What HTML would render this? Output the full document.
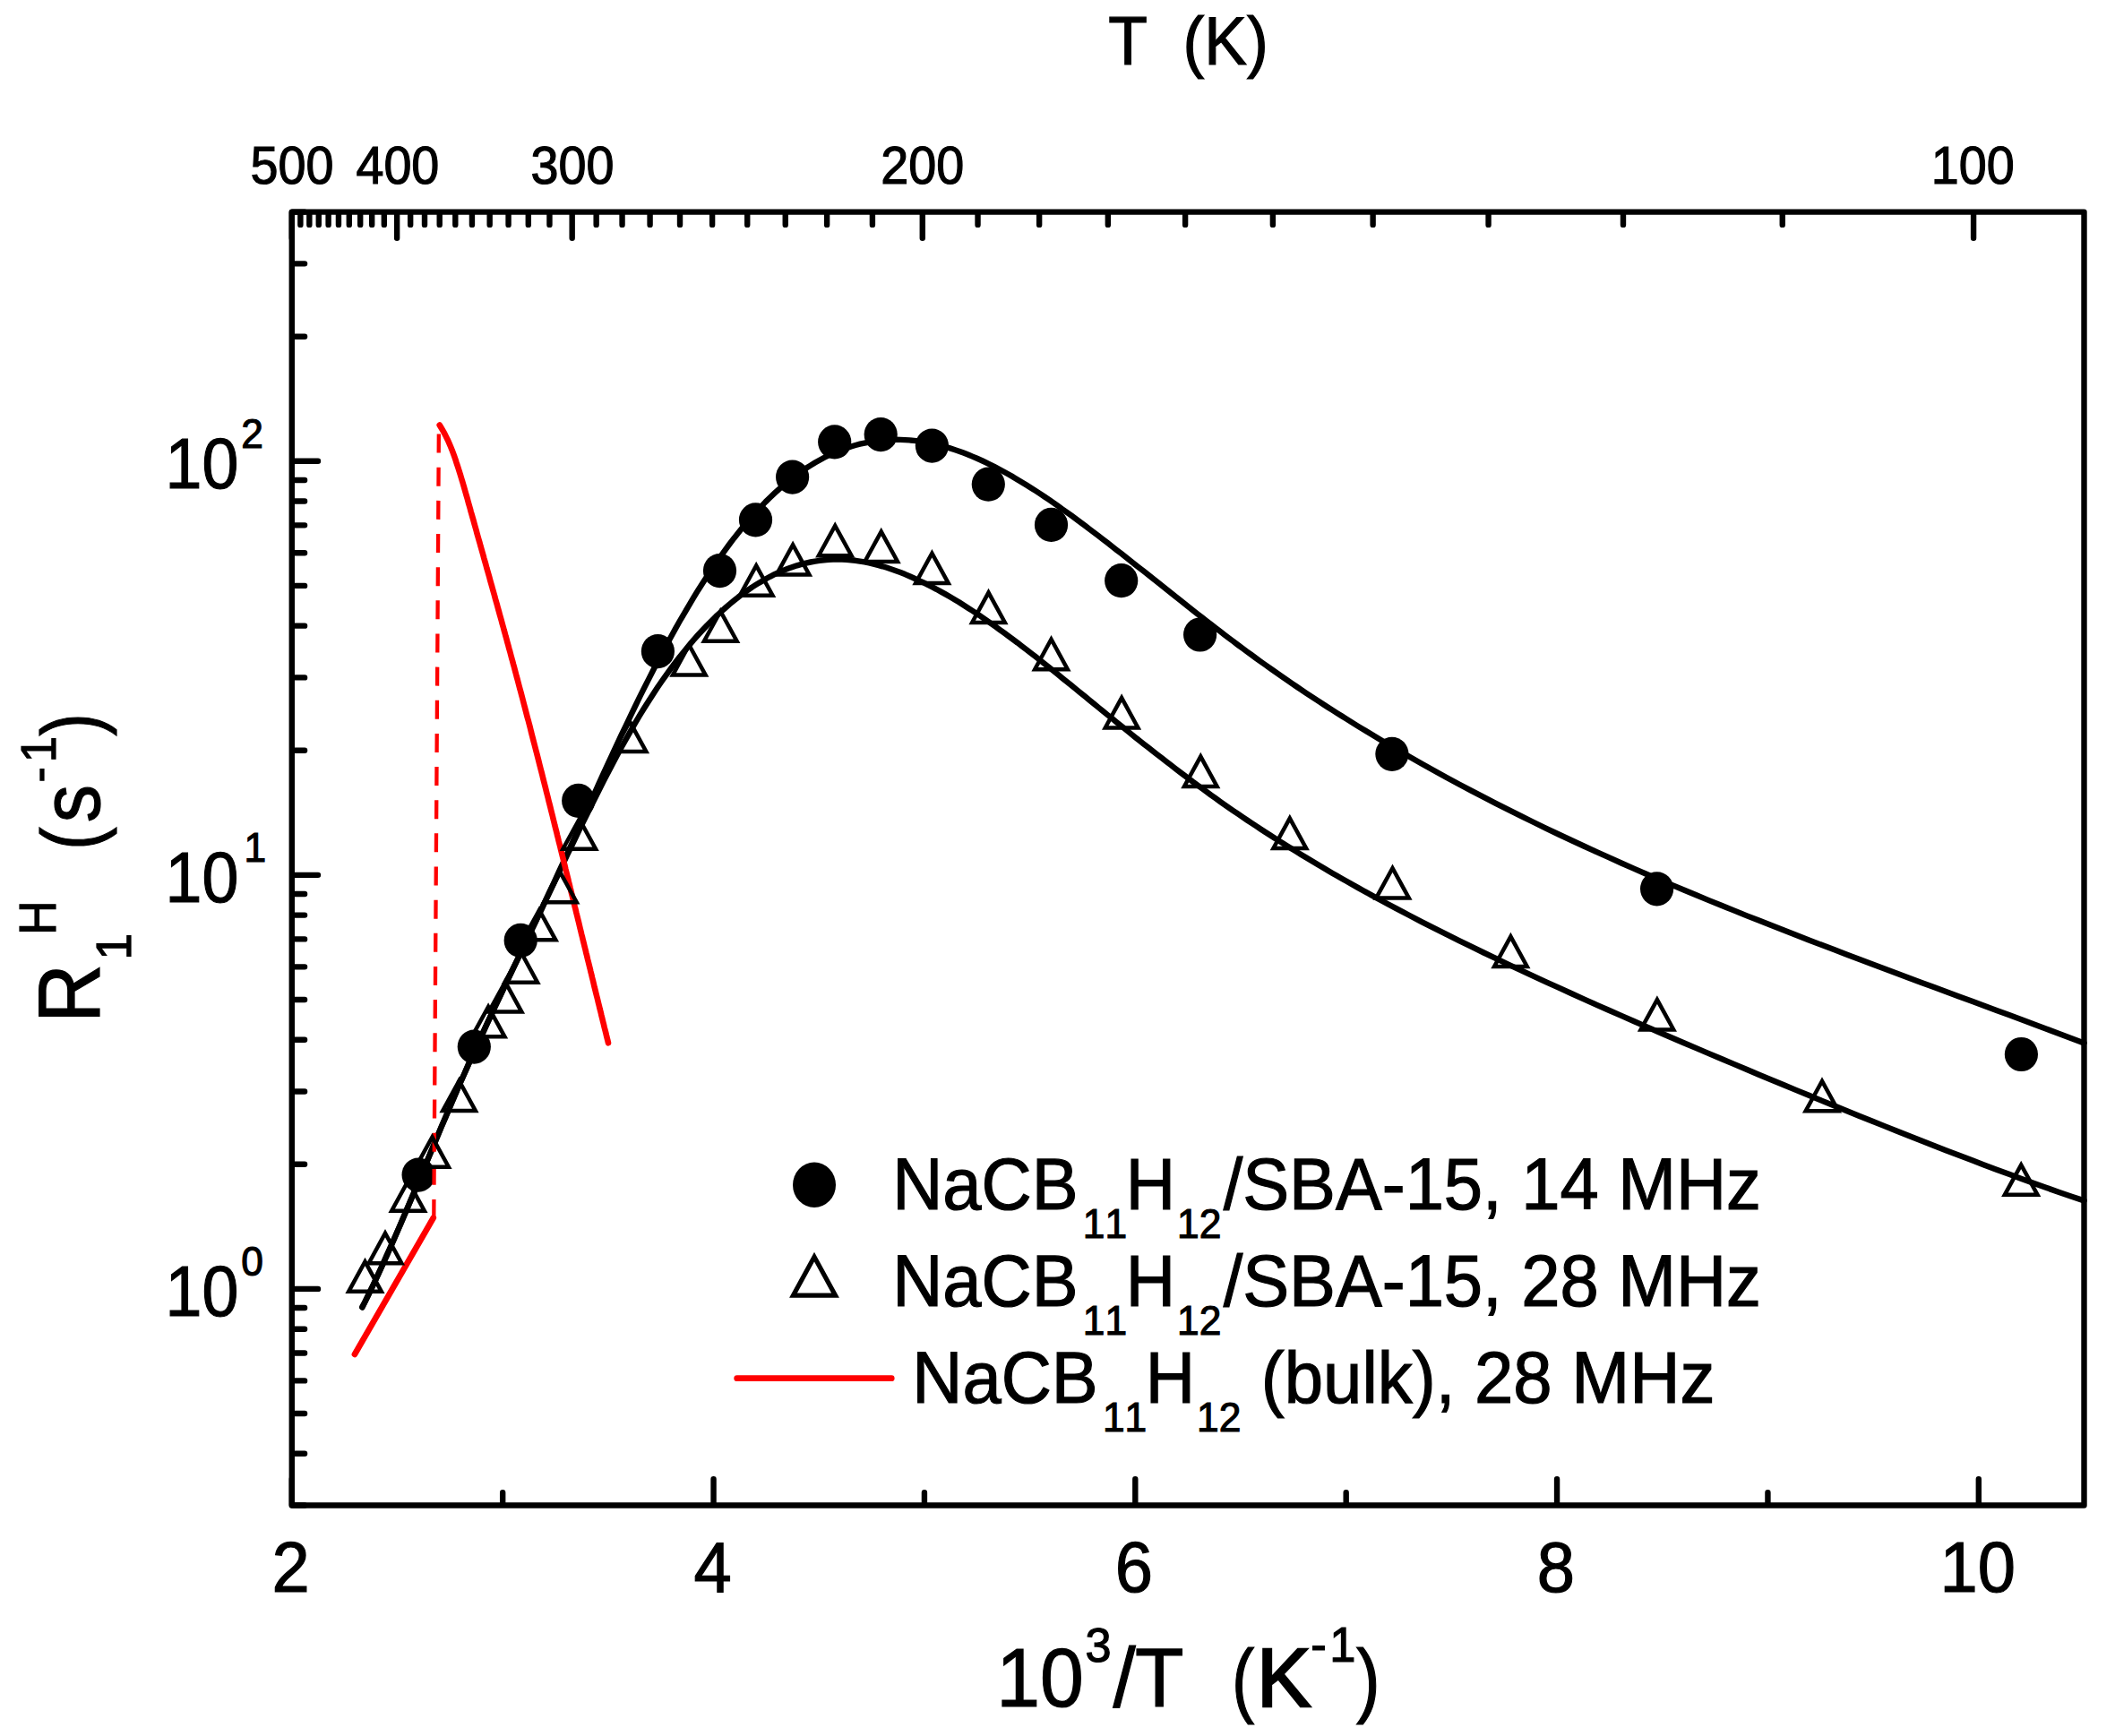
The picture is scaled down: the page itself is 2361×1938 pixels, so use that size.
<!DOCTYPE html>
<html><head><meta charset="utf-8"><title>R1H vs 1000/T</title>
<style>html,body{margin:0;padding:0;background:#fff}svg{display:block}text{white-space:pre;font-kerning:none}</style></head>
<body>
<svg width="2361" height="1938" viewBox="0 0 2361 1938" font-family="'Liberation Sans', Arial, sans-serif" fill="#000">
<rect width="2361" height="1938" fill="#fff"/>
<g>
<ellipse cx="467.1" cy="1311.6" rx="18.6" ry="19.1"/>
<ellipse cx="529.3" cy="1168.6" rx="18.6" ry="19.1"/>
<ellipse cx="581.2" cy="1049.9" rx="18.6" ry="19.1"/>
<ellipse cx="645.7" cy="893.9" rx="18.6" ry="19.1"/>
<ellipse cx="734.4" cy="727.1" rx="18.6" ry="19.1"/>
<ellipse cx="803.5" cy="637.1" rx="18.6" ry="19.1"/>
<ellipse cx="843.5" cy="580.4" rx="18.6" ry="19.1"/>
<ellipse cx="884.6" cy="532.6" rx="18.6" ry="19.1"/>
<ellipse cx="931.7" cy="493.4" rx="18.6" ry="19.1"/>
<ellipse cx="983.2" cy="485.1" rx="18.6" ry="19.1"/>
<ellipse cx="1040.4" cy="497.6" rx="18.6" ry="19.1"/>
<ellipse cx="1103.3" cy="540.7" rx="18.6" ry="19.1"/>
<ellipse cx="1173.5" cy="585.9" rx="18.6" ry="19.1"/>
<ellipse cx="1251.7" cy="648.2" rx="18.6" ry="19.1"/>
<ellipse cx="1339.6" cy="708.5" rx="18.6" ry="19.1"/>
<ellipse cx="1553.9" cy="841.8" rx="18.6" ry="19.1"/>
<ellipse cx="1849.6" cy="992.3" rx="18.6" ry="19.1"/>
<ellipse cx="2256.4" cy="1177.0" rx="18.6" ry="19.1"/>
</g>
<g fill="none" stroke-linecap="round" stroke-linejoin="round">
<path d="M404.4,1459.3 L407.3,1453.6 L412.3,1443.3 L417.4,1432.9 L422.4,1422.2 L427.4,1411.2 L432.4,1400.1 L437.5,1388.8 L442.5,1377.3 L447.5,1365.7 L452.5,1353.9 L457.6,1342.1 L462.6,1330.2 L467.6,1318.2 L472.6,1306.2 L477.7,1294.1 L482.7,1282.1 L487.7,1270.1 L492.7,1258.1 L497.8,1246.2 L502.8,1234.4 L507.8,1222.7 L512.8,1211.1 L517.9,1199.7 L522.9,1188.4 L527.9,1177.2 L532.9,1166.2 L538.0,1155.3 L543.0,1144.4 L548.0,1133.7 L553.0,1123.0 L558.1,1112.3 L563.1,1101.7 L568.1,1091.2 L573.1,1080.7 L578.2,1070.2 L583.2,1059.7 L588.2,1049.2 L593.2,1038.7 L598.3,1028.1 L603.3,1017.5 L608.3,1006.8 L613.3,996.1 L618.4,985.3 L623.4,974.4 L628.4,963.5 L633.4,952.5 L638.5,941.4 L643.5,930.3 L648.5,919.2 L653.5,908.0 L658.6,896.8 L663.6,885.7 L668.6,874.6 L673.6,863.7 L678.7,852.7 L683.7,841.9 L688.7,831.1 L693.7,820.4 L698.8,809.8 L703.8,799.3 L708.8,789.0 L713.8,778.7 L718.8,768.6 L723.9,758.6 L728.9,748.8 L733.9,739.1 L738.9,729.6 L744.0,720.2 L749.0,711.0 L754.0,701.9 L759.0,693.0 L764.1,684.3 L769.1,675.8 L774.1,667.4 L779.1,659.2 L784.2,651.3 L789.2,643.5 L794.2,635.9 L799.2,628.5 L804.3,621.3 L809.3,614.3 L814.3,607.5 L819.3,600.9 L824.4,594.5 L829.4,588.3 L834.4,582.3 L839.4,576.6 L844.5,571.0 L849.5,565.6 L854.5,560.4 L859.5,555.5 L864.6,550.7 L869.6,546.1 L874.6,541.8 L879.6,537.6 L884.7,533.6 L889.7,529.8 L894.7,526.2 L899.7,522.8 L904.8,519.6 L909.8,516.5 L914.8,513.7 L919.8,511.0 L924.9,508.5 L929.9,506.2 L934.9,504.0 L939.9,502.0 L945.0,500.2 L950.0,498.5 L955.0,497.0 L960.0,495.7 L965.1,494.6 L970.1,493.6 L975.1,492.7 L980.1,492.0 L985.2,491.5 L990.2,491.1 L995.2,490.9 L1000.2,490.8 L1005.2,490.9 L1010.3,491.1 L1015.3,491.4 L1020.3,491.9 L1025.3,492.5 L1030.4,493.3 L1035.4,494.1 L1040.4,495.1 L1045.4,496.3 L1050.5,497.5 L1055.5,498.9 L1060.5,500.4 L1065.5,502.0 L1070.6,503.7 L1075.6,505.6 L1080.6,507.5 L1085.6,509.6 L1090.7,511.8 L1095.7,514.0 L1100.7,516.4 L1105.7,518.8 L1110.8,521.4 L1115.8,524.0 L1120.8,526.7 L1125.8,529.5 L1130.9,532.4 L1135.9,535.4 L1140.9,538.4 L1145.9,541.5 L1151.0,544.7 L1156.0,547.9 L1161.0,551.2 L1166.0,554.5 L1171.1,557.9 L1176.1,561.4 L1181.1,564.9 L1186.1,568.5 L1191.2,572.1 L1196.2,575.7 L1201.2,579.4 L1206.2,583.1 L1211.3,586.9 L1216.3,590.7 L1221.3,594.5 L1226.3,598.3 L1231.4,602.2 L1236.4,606.1 L1241.4,610.0 L1246.4,613.9 L1251.5,617.8 L1256.5,621.8 L1261.5,625.7 L1266.5,629.7 L1271.6,633.7 L1276.6,637.6 L1281.6,641.6 L1286.6,645.6 L1291.7,649.6 L1296.7,653.5 L1301.7,657.5 L1306.7,661.5 L1311.7,665.5 L1316.8,669.5 L1321.8,673.5 L1326.8,677.4 L1331.8,681.4 L1336.9,685.4 L1341.9,689.3 L1346.9,693.2 L1351.9,697.1 L1357.0,701.0 L1362.0,704.8 L1367.0,708.7 L1372.0,712.5 L1377.1,716.3 L1382.1,720.1 L1387.1,723.8 L1392.1,727.5 L1397.2,731.2 L1402.2,734.9 L1407.2,738.5 L1412.2,742.0 L1417.3,745.6 L1422.3,749.2 L1427.3,752.7 L1432.3,756.2 L1437.4,759.7 L1442.4,763.1 L1447.4,766.5 L1452.4,769.9 L1457.5,773.3 L1462.5,776.6 L1467.5,779.9 L1472.5,783.2 L1477.6,786.5 L1482.6,789.7 L1487.6,792.9 L1492.6,796.1 L1497.7,799.3 L1502.7,802.4 L1516.6,811.1 L1530.6,819.6 L1544.6,828.0 L1558.5,836.2 L1572.5,844.3 L1586.5,852.2 L1600.4,860.0 L1614.4,867.7 L1628.3,875.2 L1642.3,882.6 L1656.3,889.9 L1670.2,897.1 L1684.2,904.2 L1698.2,911.2 L1712.1,918.0 L1726.1,924.8 L1740.1,931.5 L1754.0,938.0 L1768.0,944.5 L1781.9,950.9 L1795.9,957.2 L1809.9,963.5 L1823.8,969.6 L1837.8,975.7 L1851.8,981.7 L1865.7,987.6 L1879.7,993.5 L1893.6,999.3 L1907.6,1005.1 L1921.6,1010.8 L1935.5,1016.4 L1949.5,1022.1 L1963.5,1027.6 L1977.4,1033.1 L1991.4,1038.6 L2005.4,1044.0 L2019.3,1049.4 L2033.3,1054.8 L2047.2,1060.1 L2061.2,1065.4 L2075.2,1070.7 L2089.1,1076.0 L2103.1,1081.2 L2117.1,1086.5 L2131.0,1091.7 L2145.0,1096.9 L2158.9,1102.0 L2172.9,1107.2 L2186.9,1112.4 L2200.8,1117.6 L2214.8,1122.8 L2228.8,1128.0 L2242.7,1133.1 L2256.7,1138.3 L2270.6,1143.5 L2284.6,1148.7 L2298.6,1154.0 L2312.5,1159.2 L2326.5,1164.4" stroke="#000" stroke-width="6.4"/>
<path d="M404.4,1459.3 L407.3,1453.6 L412.3,1443.3 L417.4,1432.9 L422.4,1422.2 L427.4,1411.2 L432.4,1400.1 L437.5,1388.8 L442.5,1377.3 L447.5,1365.7 L452.5,1353.9 L457.6,1342.1 L462.6,1330.2 L467.6,1318.2 L472.6,1306.2 L477.7,1294.1 L482.7,1282.1 L487.7,1270.1 L492.7,1258.1 L497.8,1246.2 L502.8,1234.4 L507.8,1222.7 L512.8,1211.1 L517.9,1199.7 L522.9,1188.4 L527.9,1177.2 L532.9,1166.2 L538.0,1155.3 L543.0,1144.4 L548.0,1133.7 L553.0,1123.0 L558.1,1112.3 L563.1,1101.7 L568.1,1091.2 L573.1,1080.7 L578.2,1070.2 L583.2,1059.7 L588.2,1049.2 L593.2,1038.7 L598.3,1028.1 L603.3,1017.6 L608.3,1007.0 L613.3,996.4 L618.4,985.8 L623.4,975.2 L628.4,964.6 L633.4,954.0 L638.5,943.5 L643.5,933.0 L648.5,922.7 L653.5,912.5 L658.6,902.4 L663.6,892.3 L668.6,882.3 L673.6,872.4 L678.7,862.6 L683.7,853.0 L688.7,843.6 L693.7,834.3 L698.8,825.2 L703.8,816.4 L708.8,807.7 L713.8,799.2 L718.8,791.0 L723.9,783.0 L728.9,775.2 L733.9,767.6 L738.9,760.3 L744.0,753.1 L749.0,746.2 L754.0,739.5 L759.0,733.0 L764.1,726.7 L769.1,720.6 L774.1,714.6 L779.1,709.0 L784.2,703.5 L789.2,698.2 L794.2,693.2 L799.2,688.2 L804.3,683.5 L809.3,679.0 L814.3,674.6 L819.3,670.5 L824.4,666.4 L829.4,662.7 L834.4,659.1 L839.4,655.6 L844.5,652.4 L849.5,649.4 L854.5,646.5 L859.5,643.8 L864.6,641.2 L869.6,638.9 L874.6,636.7 L879.6,634.8 L884.7,633.0 L889.7,631.3 L894.7,629.9 L899.7,628.6 L904.8,627.5 L909.8,626.6 L914.8,625.8 L919.8,625.3 L924.9,624.8 L929.9,624.6 L934.9,624.5 L939.9,624.6 L945.0,624.8 L950.0,625.3 L955.0,625.8 L960.0,626.6 L965.1,627.4 L970.1,628.4 L975.1,629.6 L980.1,630.9 L985.2,632.3 L990.2,633.8 L995.2,635.5 L1000.2,637.3 L1005.2,639.1 L1010.3,641.1 L1015.3,643.3 L1020.3,645.5 L1025.3,647.8 L1030.4,650.1 L1035.4,652.6 L1040.4,655.2 L1045.4,657.8 L1050.5,660.6 L1055.5,663.4 L1060.5,666.3 L1065.5,669.3 L1070.6,672.3 L1075.6,675.5 L1080.6,678.7 L1085.6,681.9 L1090.7,685.2 L1095.7,688.6 L1100.7,692.1 L1105.7,695.6 L1110.8,699.2 L1115.8,702.8 L1120.8,706.4 L1125.8,710.1 L1130.9,713.9 L1135.9,717.6 L1140.9,721.5 L1145.9,725.3 L1151.0,729.2 L1156.0,733.1 L1161.0,737.1 L1166.0,741.1 L1171.1,745.1 L1176.1,749.1 L1181.1,753.1 L1186.1,757.2 L1191.2,761.2 L1196.2,765.3 L1201.2,769.4 L1206.2,773.5 L1211.3,777.6 L1216.3,781.7 L1221.3,785.8 L1226.3,789.9 L1231.4,794.0 L1236.4,798.1 L1241.4,802.1 L1246.4,806.2 L1251.5,810.3 L1256.5,814.3 L1261.5,818.4 L1266.5,822.4 L1271.6,826.4 L1276.6,830.4 L1281.6,834.3 L1286.6,838.3 L1291.7,842.2 L1296.7,846.1 L1301.7,850.0 L1306.7,853.8 L1311.7,857.7 L1316.8,861.6 L1321.8,865.4 L1326.8,869.1 L1331.8,872.9 L1336.9,876.6 L1341.9,880.3 L1346.9,883.9 L1351.9,887.6 L1357.0,891.2 L1362.0,894.8 L1367.0,898.3 L1372.0,901.8 L1377.1,905.3 L1382.1,908.7 L1387.1,912.1 L1392.1,915.5 L1397.2,918.9 L1402.2,922.2 L1407.2,925.5 L1412.2,928.7 L1417.3,932.0 L1422.3,935.2 L1427.3,938.4 L1432.3,941.5 L1437.4,944.7 L1442.4,947.8 L1447.4,950.9 L1452.4,954.0 L1457.5,957.1 L1462.5,960.1 L1467.5,963.1 L1472.5,966.0 L1477.6,969.0 L1482.6,972.0 L1487.6,974.9 L1492.6,977.8 L1497.7,980.7 L1502.7,983.5 L1516.6,991.4 L1530.6,999.1 L1544.6,1006.7 L1558.5,1014.1 L1572.5,1021.5 L1586.5,1028.8 L1600.4,1035.9 L1614.4,1042.9 L1628.3,1049.9 L1642.3,1056.7 L1656.3,1063.5 L1670.2,1070.2 L1684.2,1076.8 L1698.2,1083.4 L1712.1,1089.9 L1726.1,1096.3 L1740.1,1102.7 L1754.0,1109.0 L1768.0,1115.3 L1781.9,1121.6 L1795.9,1127.8 L1809.9,1133.9 L1823.8,1140.0 L1837.8,1146.1 L1851.8,1152.2 L1865.7,1158.2 L1879.7,1164.2 L1893.6,1170.1 L1907.6,1176.1 L1921.6,1182.0 L1935.5,1187.9 L1949.5,1193.8 L1963.5,1199.7 L1977.4,1205.5 L1991.4,1211.3 L2005.4,1217.1 L2019.3,1222.8 L2033.3,1228.6 L2047.2,1234.3 L2061.2,1240.0 L2075.2,1245.7 L2089.1,1251.3 L2103.1,1256.9 L2117.1,1262.5 L2131.0,1268.0 L2145.0,1273.5 L2158.9,1279.0 L2172.9,1284.4 L2186.9,1289.8 L2200.8,1295.1 L2214.8,1300.4 L2228.8,1305.7 L2242.7,1310.8 L2256.7,1315.9 L2270.6,1321.0 L2284.6,1326.0 L2298.6,1330.9 L2312.5,1335.7 L2326.5,1340.4" stroke="#000" stroke-width="6.4"/>
<path d="M395.9,1512.0 L483.8,1359.5" stroke="#f00" stroke-width="6.6"/>
<path d="M484.3,1360.0 L489.9,476.0" stroke="#f00" stroke-width="4.3" stroke-dasharray="21 16.15" stroke-linecap="butt"/>
<path d="M490.7,474.5 L492.8,478.0 L494.8,481.4 L496.7,484.9 L498.4,488.4 L500.1,491.8 L501.6,495.3 L503.1,498.8 L504.5,502.2 L505.8,505.7 L507.1,509.2 L508.3,512.6 L509.4,516.1 L510.6,519.6 L511.7,523.0 L512.8,526.5 L513.9,530.0 L514.9,533.4 L516.0,536.9 L517.0,540.4 L518.0,543.8 L519.0,547.3 L520.0,550.8 L521.0,554.2 L522.0,557.7 L522.9,561.2 L523.9,564.6 L524.9,568.1 L525.8,571.6 L526.8,575.0 L527.8,578.5 L528.8,582.0 L529.7,585.4 L530.7,588.9 L531.7,592.4 L532.6,595.8 L533.6,599.3 L534.6,602.8 L535.6,606.2 L536.5,609.7 L537.5,613.2 L538.5,616.6 L539.5,620.1 L540.4,623.6 L541.4,627.0 L542.4,630.5 L543.3,634.0 L544.3,637.4 L545.3,640.9 L546.3,644.4 L547.2,647.8 L548.2,651.3 L549.2,654.7 L550.1,658.2 L551.1,661.7 L552.1,665.1 L553.0,668.6 L554.0,672.1 L555.0,675.5 L555.9,679.0 L556.9,682.5 L557.8,685.9 L558.8,689.4 L559.8,692.9 L560.7,696.3 L561.7,699.8 L562.6,703.3 L563.6,706.7 L564.5,710.2 L565.5,713.7 L566.4,717.1 L567.4,720.6 L568.3,724.1 L569.3,727.5 L570.2,731.0 L571.1,734.5 L572.1,737.9 L573.0,741.4 L574.0,744.9 L574.9,748.3 L575.8,751.8 L576.7,755.3 L577.7,758.7 L578.6,762.2 L579.5,765.7 L580.4,769.1 L581.4,772.6 L582.3,776.1 L583.2,779.5 L584.1,783.0 L585.0,786.5 L585.9,789.9 L586.8,793.4 L587.7,796.9 L588.6,800.3 L589.6,803.8 L590.5,807.3 L591.4,810.7 L592.3,814.2 L593.1,817.7 L594.0,821.1 L594.9,824.6 L595.8,828.1 L596.7,831.5 L597.6,835.0 L598.5,838.5 L599.4,841.9 L600.3,845.4 L601.2,848.9 L602.0,852.3 L602.9,855.8 L603.8,859.3 L604.7,862.7 L605.6,866.2 L606.4,869.7 L607.3,873.1 L608.2,876.6 L609.1,880.1 L609.9,883.5 L610.8,887.0 L611.7,890.5 L612.5,893.9 L613.4,897.4 L614.3,900.9 L615.1,904.3 L616.0,907.8 L616.9,911.3 L617.7,914.7 L618.6,918.2 L619.4,921.7 L620.3,925.1 L621.2,928.6 L622.0,932.1 L622.9,935.5 L623.7,939.0 L624.6,942.5 L625.5,945.9 L626.3,949.4 L627.2,952.9 L628.0,956.3 L628.9,959.8 L629.7,963.3 L630.6,966.7 L631.4,970.2 L632.3,973.7 L633.1,977.1 L634.0,980.6 L634.8,984.1 L635.7,987.5 L636.5,991.0 L637.4,994.4 L638.2,997.9 L639.1,1001.4 L639.9,1004.8 L640.8,1008.3 L641.6,1011.8 L642.5,1015.2 L643.3,1018.7 L644.2,1022.2 L645.0,1025.6 L645.9,1029.1 L646.7,1032.6 L647.5,1036.0 L648.4,1039.5 L649.2,1043.0 L650.1,1046.4 L650.9,1049.9 L651.8,1053.4 L652.6,1056.8 L653.5,1060.3 L654.3,1063.8 L655.2,1067.2 L656.0,1070.7 L656.9,1074.2 L657.7,1077.6 L658.6,1081.1 L659.4,1084.6 L660.3,1088.0 L661.1,1091.5 L662.0,1095.0 L662.8,1098.4 L663.6,1101.9 L664.5,1105.4 L665.3,1108.8 L666.2,1112.3 L667.1,1115.8 L667.9,1119.2 L668.8,1122.7 L669.6,1126.2 L670.5,1129.6 L671.3,1133.1 L672.2,1136.6 L673.0,1140.0 L673.9,1143.5 L674.7,1147.0 L675.6,1150.4 L676.5,1153.9 L677.3,1157.4 L678.2,1160.8 L679.0,1164.3" stroke="#f00" stroke-width="6.6"/>
</g>
<g fill="none" stroke="#000" stroke-linejoin="miter">
<path d="M389.20,1441.85 L425.80,1441.85 L407.50,1408.45 Z" stroke-width="4.5"/>
<path d="M411.70,1410.15 L448.30,1410.15 L430.00,1376.75 Z" stroke-width="4.5"/>
<path d="M437.20,1351.75 L473.80,1351.75 L455.50,1318.35 Z" stroke-width="4.5"/>
<path d="M464.20,1302.75 L500.80,1302.75 L482.50,1269.35 Z" stroke-width="4.5"/>
<path d="M494.20,1239.95 L530.80,1239.95 L512.50,1206.55 Z" stroke-width="4.5"/>
<path d="M526.80,1157.35 L563.40,1157.35 L545.10,1123.95 Z" stroke-width="4.5"/>
<path d="M545.70,1129.55 L582.30,1129.55 L564.00,1096.15 Z" stroke-width="4.5"/>
<path d="M563.40,1096.65 L600.00,1096.65 L581.70,1063.25 Z" stroke-width="4.5"/>
<path d="M583.70,1049.35 L620.30,1049.35 L602.00,1015.95 Z" stroke-width="4.5"/>
<path d="M607.10,1007.25 L643.70,1007.25 L625.40,973.85 Z" stroke-width="4.5"/>
<path d="M628.40,947.75 L665.00,947.75 L646.70,914.35 Z" stroke-width="4.5"/>
<path d="M684.70,838.95 L721.30,838.95 L703.00,805.55 Z" stroke-width="4.5"/>
<path d="M751.00,753.55 L787.60,753.55 L769.30,720.15 Z" stroke-width="4.5"/>
<path d="M786.00,715.75 L822.60,715.75 L804.30,682.35 Z" stroke-width="4.5"/>
<path d="M825.90,664.75 L862.50,664.75 L844.20,631.35 Z" stroke-width="4.5"/>
<path d="M866.80,641.55 L903.40,641.55 L885.10,608.15 Z" stroke-width="4.5"/>
<path d="M913.90,620.25 L950.50,620.25 L932.20,586.85 Z" stroke-width="4.5"/>
<path d="M965.40,626.95 L1002.00,626.95 L983.70,593.55 Z" stroke-width="4.5"/>
<path d="M1022.10,651.05 L1058.70,651.05 L1040.40,617.65 Z" stroke-width="4.5"/>
<path d="M1085.20,694.95 L1121.80,694.95 L1103.50,661.55 Z" stroke-width="4.5"/>
<path d="M1155.20,747.15 L1191.80,747.15 L1173.50,713.75 Z" stroke-width="4.5"/>
<path d="M1233.80,812.45 L1270.40,812.45 L1252.10,779.05 Z" stroke-width="4.5"/>
<path d="M1322.00,877.95 L1358.60,877.95 L1340.30,844.55 Z" stroke-width="4.5"/>
<path d="M1421.50,946.95 L1458.10,946.95 L1439.80,913.55 Z" stroke-width="4.5"/>
<path d="M1536.20,1002.55 L1572.80,1002.55 L1554.50,969.15 Z" stroke-width="4.5"/>
<path d="M1668.10,1078.95 L1704.70,1078.95 L1686.40,1045.55 Z" stroke-width="4.5"/>
<path d="M1831.60,1149.45 L1868.20,1149.45 L1849.90,1116.05 Z" stroke-width="4.5"/>
<path d="M2015.70,1240.25 L2052.30,1240.25 L2034.00,1206.85 Z" stroke-width="4.5"/>
<path d="M2237.90,1333.85 L2274.50,1333.85 L2256.20,1300.45 Z" stroke-width="4.5"/>
</g>
<g stroke="#000" fill="none" stroke-linecap="round">
<rect x="325.8" y="236.6" width="2000.7" height="1443.9" stroke-width="6.4" stroke-linejoin="round"/>
<path d="M325.80,1679.9 V1651.30 M561.18,1679.9 V1666.20 M796.55,1679.9 V1651.30 M1031.93,1679.9 V1666.20 M1267.31,1679.9 V1651.30 M1502.68,1679.9 V1666.20 M1738.06,1679.9 V1651.30 M1973.44,1679.9 V1666.20 M2208.81,1679.9 V1651.30 M325.80,237.2 V265.80 M335.38,237.2 V250.90 M345.36,237.2 V250.90 M355.76,237.2 V250.90 M366.61,237.2 V250.90 M377.95,237.2 V250.90 M389.80,237.2 V250.90 M402.20,237.2 V250.90 M415.19,237.2 V250.90 M428.82,237.2 V250.90 M443.13,237.2 V265.80 M458.17,237.2 V250.90 M474.01,237.2 V250.90 M490.70,237.2 V250.90 M508.31,237.2 V250.90 M526.94,237.2 V250.90 M546.66,237.2 V250.90 M567.57,237.2 V250.90 M589.79,237.2 V250.90 M613.45,237.2 V250.90 M638.68,237.2 V265.80 M665.65,237.2 V250.90 M694.55,237.2 V250.90 M725.59,237.2 V250.90 M759.02,237.2 V250.90 M795.12,237.2 V250.90 M834.23,237.2 V250.90 M876.74,237.2 V250.90 M923.12,237.2 V250.90 M973.91,237.2 V250.90 M1029.78,237.2 V265.80 M1091.53,237.2 V250.90 M1160.15,237.2 V250.90 M1236.83,237.2 V250.90 M1323.11,237.2 V250.90 M1420.88,237.2 V250.90 M1532.62,237.2 V250.90 M1661.56,237.2 V250.90 M1811.98,237.2 V250.90 M1989.75,237.2 V250.90 M2203.08,237.2 V265.80 M326.40000000000003,1680.50 H340.10 M326.40000000000003,1622.77 H340.10 M326.40000000000003,1577.99 H340.10 M326.40000000000003,1541.41 H340.10 M326.40000000000003,1510.47 H340.10 M326.40000000000003,1483.68 H340.10 M326.40000000000003,1460.04 H340.10 M326.40000000000003,1438.90 H355.00 M326.40000000000003,1299.81 H340.10 M326.40000000000003,1218.44 H340.10 M326.40000000000003,1160.71 H340.10 M326.40000000000003,1115.94 H340.10 M326.40000000000003,1079.35 H340.10 M326.40000000000003,1048.42 H340.10 M326.40000000000003,1021.62 H340.10 M326.40000000000003,997.99 H340.10 M326.40000000000003,976.84 H355.00 M326.40000000000003,837.75 H340.10 M326.40000000000003,756.39 H340.10 M326.40000000000003,698.66 H340.10 M326.40000000000003,653.88 H340.10 M326.40000000000003,617.29 H340.10 M326.40000000000003,586.36 H340.10 M326.40000000000003,559.56 H340.10 M326.40000000000003,535.93 H340.10 M326.40000000000003,514.79 H355.00 M326.40000000000003,375.69 H340.10 M326.40000000000003,294.33 H340.10 M326.40000000000003,236.60 H340.10" stroke-width="6.4"/>
</g>
<text transform="translate(1237.19,71.70) scale(0.9492,1)" font-size="75.29"  stroke="#000" stroke-width="1.2">T  (K)</text>
<text transform="translate(279.58,205.03) scale(0.9530,1)" font-size="58.47"  stroke="#000" stroke-width="1.2">500</text>
<text transform="translate(397.39,205.03) scale(0.9530,1)" font-size="58.47"  stroke="#000" stroke-width="1.2">400</text>
<text transform="translate(592.52,205.03) scale(0.9530,1)" font-size="58.47"  stroke="#000" stroke-width="1.2">300</text>
<text transform="translate(983.28,205.03) scale(0.9530,1)" font-size="58.47"  stroke="#000" stroke-width="1.2">200</text>
<text transform="translate(2155.86,205.03) scale(0.9530,1)" font-size="58.47"  stroke="#000" stroke-width="1.2">100</text>
<text transform="translate(303.49,1776.52) scale(0.9530,1)" font-size="79.66"  stroke="#000" stroke-width="1.2">2</text>
<text transform="translate(774.48,1776.52) scale(0.9530,1)" font-size="79.66"  stroke="#000" stroke-width="1.2">4</text>
<text transform="translate(1244.74,1776.52) scale(0.9530,1)" font-size="79.66"  stroke="#000" stroke-width="1.2">6</text>
<text transform="translate(1715.75,1776.52) scale(0.9530,1)" font-size="79.66"  stroke="#000" stroke-width="1.2">8</text>
<text transform="translate(2165.48,1776.52) scale(0.9530,1)" font-size="79.66"  stroke="#000" stroke-width="1.2">10</text>
<text transform="translate(184.50,1468.72) scale(0.9212,1)" font-size="79.80"  stroke="#000" stroke-width="1.2">10</text>
<text transform="translate(269.17,1424.20) scale(0.9530,1)" font-size="46.55"  stroke="#000" stroke-width="1.2">0</text>
<text transform="translate(184.50,1006.66) scale(0.9212,1)" font-size="79.80"  stroke="#000" stroke-width="1.2">10</text>
<text transform="translate(272.49,962.14) scale(0.9530,1)" font-size="46.55"  stroke="#000" stroke-width="1.2">1</text>
<text transform="translate(184.50,544.61) scale(0.9212,1)" font-size="79.80"  stroke="#000" stroke-width="1.2">10</text>
<text transform="translate(269.17,500.09) scale(0.9530,1)" font-size="46.55"  stroke="#000" stroke-width="1.2">2</text>
<text transform="translate(1112.22,1905.29) scale(0.9386,1)" font-size="93.50"  stroke="#000" stroke-width="1.2">10</text>
<text transform="translate(1211.51,1854.78) scale(0.9797,1)" font-size="53.39"  stroke="#000" stroke-width="1.2">3</text>
<text transform="translate(1242.50,1905.87) scale(0.9530,1)" font-size="95.20"  stroke="#000" stroke-width="1.2">/</text>
<text transform="translate(1267.00,1905.27) scale(0.9538,1)" font-size="93.45"  stroke="#000" stroke-width="1.2">T</text>
<text transform="translate(1374.90,1905.88) scale(0.8165,1)" font-size="92.85"  stroke="#000" stroke-width="1.2">(</text>
<text transform="translate(1402.97,1905.27) scale(0.9699,1)" font-size="93.45" stroke="#000" stroke-width="2.6">K</text>
<text transform="translate(1463.17,1855.36) scale(0.9530,1)" font-size="55.08"  stroke="#000" stroke-width="1.2">-</text>
<text transform="translate(1484.18,1855.36) scale(0.9530,1)" font-size="55.08"  stroke="#000" stroke-width="1.2">1</text>
<text transform="translate(1513.93,1905.88) scale(0.8653,1)" font-size="92.85"  stroke="#000" stroke-width="1.2">)</text>
<g transform="translate(0,0)">
<text transform="translate(110.70,1141.89) rotate(-90) scale(0.9374,1)" font-size="97.39"  stroke="#000" stroke-width="1.2">R</text>
<text transform="translate(145.50,1071.59) rotate(-90) scale(0.9530,1)" font-size="55.67" stroke="#000" stroke-width="1.2">1</text>
<text transform="translate(61.70,1043.86) rotate(-90) scale(0.9355,1)" font-size="56.83"  stroke="#000" stroke-width="1.2">H</text>
<text transform="translate(110.63,948.70) rotate(-90) scale(0.8146,1)" font-size="93.06"  stroke="#000" stroke-width="1.2">(</text>
<text transform="translate(110.50,918.25) rotate(-90) scale(0.9131,1)" font-size="92.43"  stroke="#000" stroke-width="1.2">s</text>
<text transform="translate(61.39,873.41) rotate(-90) scale(0.9912,1)" font-size="52.48"  stroke="#000" stroke-width="1.2">-</text>
<text transform="translate(61.70,851.20) rotate(-90) scale(0.9530,1)" font-size="55.38" stroke="#000" stroke-width="1.2">1</text>
<text transform="translate(110.63,821.44) rotate(-90) scale(0.8146,1)" font-size="93.06"  stroke="#000" stroke-width="1.2">)</text>
</g>
<text transform="translate(996.23,1350.30) scale(0.9615,1)" font-size="80.82"  stroke="#000" stroke-width="1.2">NaCB</text>
<text transform="translate(1208.80,1382.00) scale(0.9530,1)" font-size="46.51"  stroke="#000" stroke-width="1.2">11</text>
<text transform="translate(1256.71,1350.30) scale(0.9481,1)" font-size="80.82"  stroke="#000" stroke-width="1.2">H</text>
<text transform="translate(1314.00,1382.00) scale(0.9530,1)" font-size="46.51"  stroke="#000" stroke-width="1.2">12</text>
<text transform="translate(1365.70,1350.30) scale(0.9617,1)" font-size="80.82"  stroke="#000" stroke-width="1.2">/SBA-15, 14 MHz</text>
<text transform="translate(996.23,1458.10) scale(0.9615,1)" font-size="80.82"  stroke="#000" stroke-width="1.2">NaCB</text>
<text transform="translate(1208.80,1489.80) scale(0.9530,1)" font-size="46.51"  stroke="#000" stroke-width="1.2">11</text>
<text transform="translate(1256.71,1458.10) scale(0.9481,1)" font-size="80.82"  stroke="#000" stroke-width="1.2">H</text>
<text transform="translate(1314.00,1489.80) scale(0.9530,1)" font-size="46.51"  stroke="#000" stroke-width="1.2">12</text>
<text transform="translate(1365.70,1458.10) scale(0.9617,1)" font-size="80.82"  stroke="#000" stroke-width="1.2">/SBA-15, 28 MHz</text>
<text transform="translate(1018.33,1565.90) scale(0.9615,1)" font-size="80.82"  stroke="#000" stroke-width="1.2">NaCB</text>
<text transform="translate(1230.90,1597.60) scale(0.9530,1)" font-size="46.51"  stroke="#000" stroke-width="1.2">11</text>
<text transform="translate(1278.81,1565.90) scale(0.9481,1)" font-size="80.82"  stroke="#000" stroke-width="1.2">H</text>
<text transform="translate(1336.10,1597.60) scale(0.9530,1)" font-size="46.51"  stroke="#000" stroke-width="1.2">12</text>
<text transform="translate(1407.77,1565.90) scale(0.9646,1)" font-size="80.82"  stroke="#000" stroke-width="1.2">(bulk), 28 MHz</text>
<ellipse cx="909.0" cy="1322.8" rx="24.0" ry="25.2"/>
<path d="M885.45,1446.2 L932.55,1446.2 L909,1403.1 Z" fill="none" stroke="#000" stroke-width="5.2" stroke-linejoin="miter"/>
<path d="M822.7,1538.7 H995.2" stroke="#f00" stroke-width="6.8" stroke-linecap="round" fill="none"/>
</svg>
</body></html>
